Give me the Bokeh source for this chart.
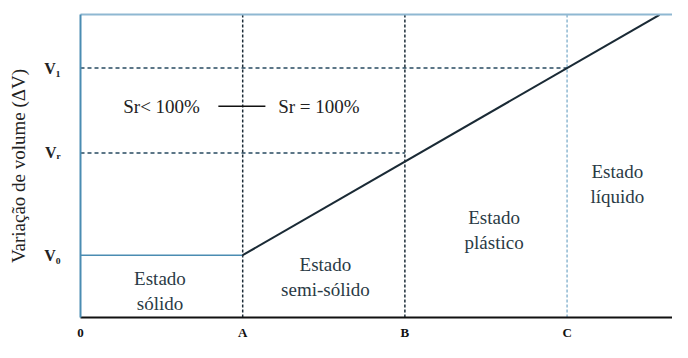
from bokeh.plotting import figure
from bokeh.models import Range1d, LinearAxis, FixedTicker
from bokeh.core.properties import value
from bokeh.embed import file_html
from bokeh.resources import INLINE

# Limits on the x axis (0, A, B, C)
x_ticks = [0, 1, 2, 3]
x_tick_labels = ["0", "A", "B", "C"]

# Volume levels
v_labels = ["V₁", "Vᵣ", "V₀"]
v_levels = [4.0, 2.64, 1.0]
v_ends = [3, 2, 1]  # horizontal reference lines end at C, B, A

# Volume-change line (starts at A / V0)
line_x = [1.0, 3.57]
line_y = [1.0, 4.855]

# Saturation marker
sr_line_x = [0.85, 1.14]
sr_y = 3.39
sr_text_x = [0.50, 1.47]
sr_texts = ["Sr< 100%", "Sr = 100%"]

# State labels
state_x = [0.49, 1.51, 2.55, 3.31]
state_y = [0.43, 0.65, 1.40, 2.14]
state_texts = ["Estado\nsólido", "Estado\nsemi-sólido", "Estado\nplástico", "Estado\nlíquido"]

X_MAX = 3.65
Y_MAX = 4.86
LIB = "Liberation Serif"
BLUE = "#4a8cb2"
LIGHT = "#8fb8d2"
DARK = "#1a2a35"

p = figure(width=672, height=342, output_backend="svg", toolbar_location=None,
           x_range=Range1d(0, X_MAX), y_range=Range1d(0, Y_MAX),
           min_border_left=80, min_border_right=0, min_border_top=14, min_border_bottom=16)
p.outline_line_color = None
p.grid.visible = False
p.background_fill_color = "white"

# bottom axis
p.xaxis.ticker = FixedTicker(ticks=x_ticks)
p.xaxis.major_label_overrides = {t: l for t, l in zip(x_ticks, x_tick_labels)}
p.xaxis.major_tick_line_color = None
p.xaxis.minor_tick_line_color = None
p.xaxis.axis_line_color = "#111111"
p.xaxis.axis_line_width = 2
p.xaxis.major_label_text_font = LIB
p.xaxis.major_label_text_font_style = "bold"
p.xaxis.major_label_text_font_size = "13px"
p.xaxis.major_label_text_color = "#111111"
p.xaxis.major_label_standoff = 1

# left axis
p.yaxis.ticker = FixedTicker(ticks=v_levels)
p.yaxis.major_label_overrides = {lv: lb for lv, lb in zip(v_levels, v_labels)}
p.yaxis.major_tick_line_color = None
p.yaxis.minor_tick_line_color = None
p.yaxis.axis_line_color = BLUE
p.yaxis.axis_line_width = 2
p.yaxis.major_label_text_font = LIB
p.yaxis.major_label_text_font_style = "bold"
p.yaxis.major_label_text_font_size = "16px"
p.yaxis.major_label_text_color = "#222222"
p.yaxis.major_label_standoff = 14
p.yaxis.axis_label = "Variação de volume (ΔV)"
p.yaxis.axis_label_text_font = LIB
p.yaxis.axis_label_text_font_style = "normal"
p.yaxis.axis_label_text_font_size = "19px"
p.yaxis.axis_label_text_color = "#222222"
p.yaxis.axis_label_standoff = 12

# top border
top = LinearAxis(ticker=FixedTicker(ticks=[]), axis_line_color=LIGHT, axis_line_width=2,
                 major_tick_line_color=None, minor_tick_line_color=None,
                 major_label_text_font_size="0px")
p.add_layout(top, "above")

# horizontal reference lines
p.segment(x0=[0, 0], y0=v_levels[:2], x1=v_ends[:2], y1=v_levels[:2],
          line_color="#274a60", line_width=1.5, line_dash="4 3")
p.segment(x0=[0], y0=[v_levels[2]], x1=[v_ends[2]], y1=[v_levels[2]],
          line_color=BLUE, line_width=1.5)

# vertical limits
p.segment(x0=x_ticks[1:3], y0=[0, 0], x1=x_ticks[1:3], y1=[Y_MAX, Y_MAX],
          line_color="#1c2c38", line_width=1.5, line_dash="3 2")
p.segment(x0=[x_ticks[3]], y0=[0], x1=[x_ticks[3]], y1=[Y_MAX],
          line_color=LIGHT, line_width=1.5, line_dash="3 2")

# volume line
p.line(line_x, line_y, line_color=DARK, line_width=2)

# Sr marker
p.line(sr_line_x, [sr_y, sr_y], line_color="#111111", line_width=1.5)
p.text(x=sr_text_x, y=[sr_y, sr_y], text=sr_texts, text_align="center",
       text_baseline="middle", text_font=value(LIB), text_font_size="19px",
       text_color="#222222")

# state labels
p.text(x=state_x, y=state_y, text=state_texts, text_align="center",
       text_baseline="middle", text_font=value(LIB), text_font_size="19px",
       text_color="#2a3a45", text_line_height=1.2)

open("out.html", "w").write(file_html(p, INLINE))
